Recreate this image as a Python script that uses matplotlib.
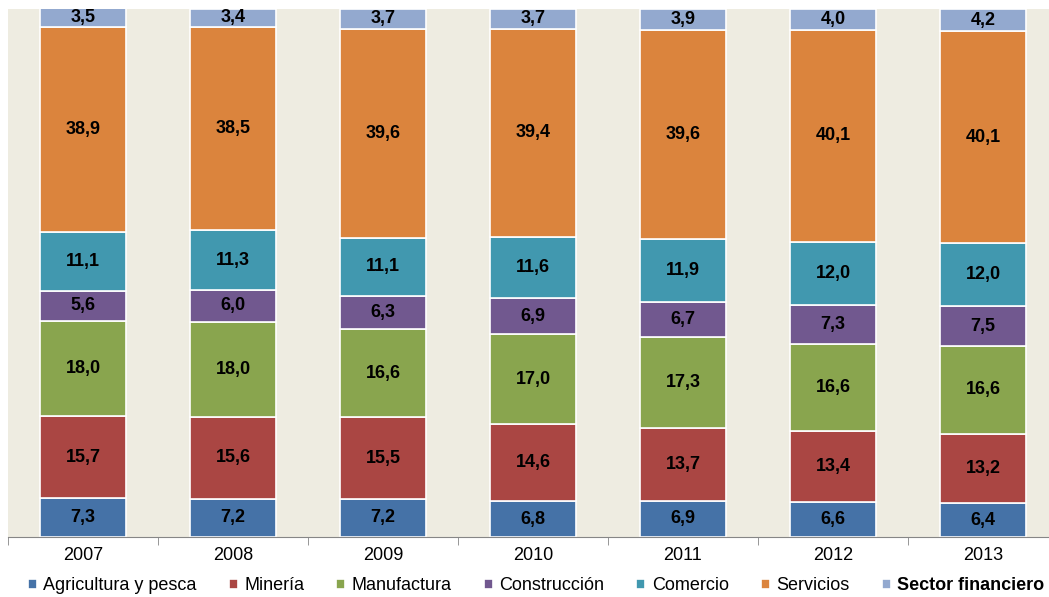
import numpy as np
import matplotlib
matplotlib.use("Agg")
import matplotlib.pyplot as plt

plt.rcParams["font.family"] = ["Liberation Sans", "DejaVu Sans"]

# === Datos ===
ANIOS = ["2007", "2008", "2009", "2010", "2011", "2012", "2013"]
SECTORES = ["Agricultura y pesca", "Minería", "Manufactura", "Construcción",
            "Comercio", "Servicios", "Sector financiero"]
agricultura = [7.3, 7.2, 7.2, 6.8, 6.9, 6.6, 6.4]
mineria = [15.7, 15.6, 15.5, 14.6, 13.7, 13.4, 13.2]
manufactura = [18.0, 18.0, 16.6, 17.0, 17.3, 16.6, 16.6]
construccion = [5.6, 6.0, 6.3, 6.9, 6.7, 7.3, 7.5]
comercio = [11.1, 11.3, 11.1, 11.6, 11.9, 12.0, 12.0]
servicios = [38.9, 38.5, 39.6, 39.4, 39.6, 40.1, 40.1]
financiero = [3.5, 3.4, 3.7, 3.7, 3.9, 4.0, 4.2]

COLORES = ["#4572A7", "#AA4643", "#89A54E", "#71588F", "#4198AF", "#DB843D", "#93A9CF"]

series = [agricultura, mineria, manufactura, construccion, comercio, servicios, financiero]

fig = plt.figure(figsize=(10.49, 5.97), dpi=100)
W, H = 1049, 597
ax = fig.add_axes([8 / W, 1 - 537 / H, 1050 / W, 528 / H])
ax.set_facecolor("#EEECE1")

x = np.arange(len(ANIOS))
base = np.zeros(len(ANIOS))
handles = []
for nombre, vals, col in zip(SECTORES, series, COLORES):
    vals = np.array(vals)
    b = ax.bar(x, vals, bottom=base, width=0.575, color=col,
               edgecolor="white", linewidth=1.2, label=nombre)
    handles.append(b)
    for xi, yb, v in zip(x, base, vals):
        ax.text(xi, yb + v / 2, f"{v:.1f}".replace(".", ","), ha="center",
                va="center", fontsize=13, fontweight="bold", color="black")
    base += vals

ax.set_xlim(-0.5, len(ANIOS) - 0.5)
ax.set_ylim(0, 100)
ax.set_yticks([])
for s in ["left", "right", "top"]:
    ax.spines[s].set_visible(False)
ax.spines["bottom"].set_color("#868686")
ax.set_xticks(x)
ax.set_xticklabels(ANIOS, fontsize=13)
ax.tick_params(axis="x", which="major", length=0, pad=7)
ax.set_xticks(np.arange(len(ANIOS)) - 0.5, minor=True)
ax.tick_params(axis="x", which="minor", length=6, color="#868686")

leg = fig.legend(handles=handles, labels=SECTORES, loc="center",
                 bbox_to_anchor=(536 / W, 1 - 586 / H), ncol=7, frameon=False,
                 fontsize=13, handlelength=0.5, handleheight=0.5,
                 handletextpad=0.35, columnspacing=1.78)
leg.get_texts()[-1].set_fontweight("bold")

fig.savefig("out.png", dpi=100)
